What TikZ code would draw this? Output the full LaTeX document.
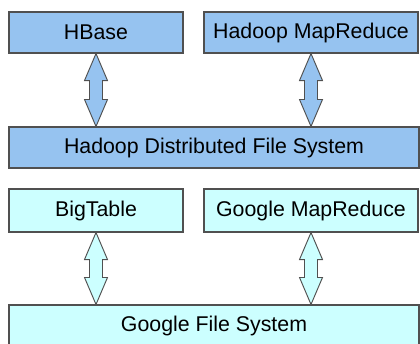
\documentclass[tikz,border=0pt]{standalone}
\usepackage{fontspec}
\setmainfont{Liberation Sans}
\usepackage{tikz}
\usetikzlibrary{positioning}
\usetikzlibrary{calc}

\definecolor{hadoopblue}{RGB}{150,195,240}
\definecolor{googlecyan}{RGB}{204,255,255}
\definecolor{edgegray}{RGB}{80,80,80}

\tikzset{
  box/.style={draw=edgegray,line width=0.8pt,rectangle,inner sep=0pt,
    minimum height=30.75pt,font=\fontsize{16}{19}\selectfont},
  hbox/.style={box,fill=hadoopblue},
  gbox/.style={box,fill=googlecyan},
  fatarrow/.style={draw=edgegray,line width=0.7pt,line join=miter}
}

\newcommand{\fatarrow}[3]{%
  \coordinate (ta) at (#1.south);
  \coordinate (tb) at (#1.south |- #2.north);
  \draw[fatarrow,fill=#3] (ta) -- ++(11.5,27) -- ++(-5,0) -- ($(tb)+(6.5,-27)$)
    -- ++(5,0) -- (tb) -- ++(-11.5,-27) -- ++(5,0) -- ($(ta)+(-6.5,27)$)
    -- ++(-5,0) -- cycle;}

\begin{document}
\begin{tikzpicture}[x=0.75pt,y=-0.75pt]
\useasboundingbox (0,0) rectangle (420,343);
\fill[white] (0,0) rectangle (420,343);
%%%%%%%%%%%%%%%%%%%%%%%%%%%%%%%%%
\node[hbox,minimum width=130.5pt] (hbase) at (96,32.5) {HBase};
\node[hbox,minimum width=160.5pt] (hmapred) at (311,32.5) {Hadoop MapReduce};
\node[hbox,minimum width=307.5pt] (hdfs) at (214,147.5) {Hadoop Distributed File System};
\fatarrow{hbase}{hdfs}{hadoopblue}
\fatarrow{hmapred}{hdfs}{hadoopblue}
%%%%%%%%%%%%%%%%%%%%%%%%%%%%%%%%%
\node[gbox,minimum width=130.5pt,minimum height=32.25pt] (bigtable) at (96,210.5) {BigTable};
\node[gbox,minimum width=160.5pt,minimum height=32.25pt] (gmapred) at (311,210.5) {Google MapReduce};
\node[gbox,minimum width=307.5pt] (gfs) at (214,325.5) {Google File System};
\fatarrow{bigtable}{gfs}{googlecyan}
\fatarrow{gmapred}{gfs}{googlecyan}
\end{tikzpicture}
\end{document}
